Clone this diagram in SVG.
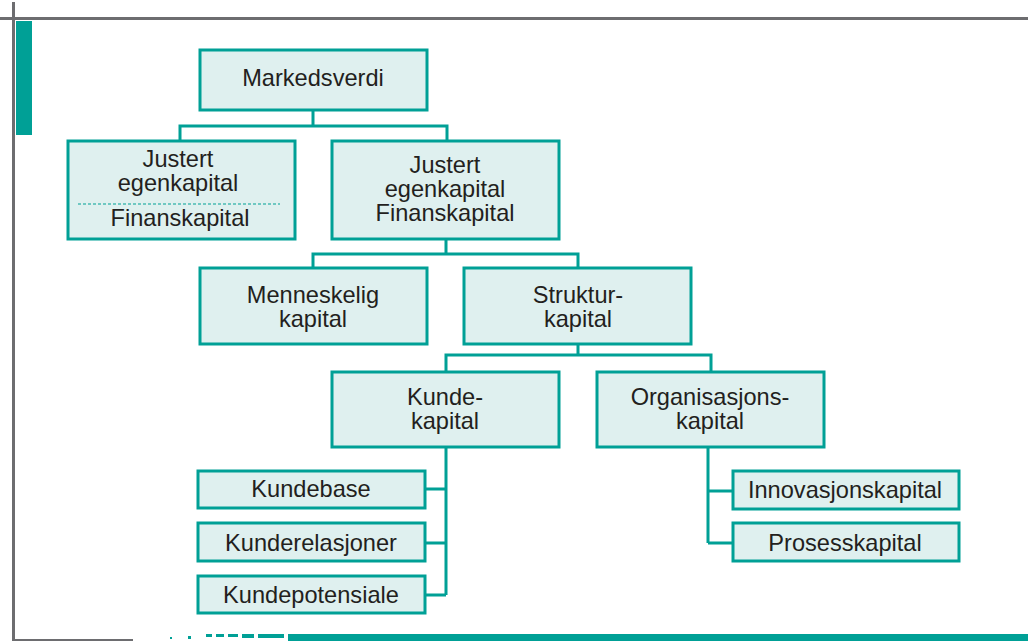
<svg xmlns="http://www.w3.org/2000/svg" width="1028" height="641" viewBox="0 0 1028 641">
  <style>
    .box { fill: #dff0ef; stroke: #00a096; stroke-width: 3; }
    .lbl { font-family: "Liberation Sans", Arial, sans-serif; font-size: 23.6px; fill: #231f20; text-anchor: middle; }
    .wire { fill: none; stroke: #00a096; stroke-width: 3; }
    .frame { fill: #6d6d70; }
    .accent { fill: #00a096; }
  </style>

  <!-- page frame and accents -->
  <g id="frame">
    <rect class="frame" x="12" y="2" width="3" height="639"/>
    <rect class="frame" x="0" y="17" width="1028" height="3"/>
    <rect class="accent" x="16" y="21" width="16" height="114"/>
    <rect class="frame" x="12" y="639" width="121" height="2"/>
    <rect class="accent" x="288" y="634" width="740" height="7"/>
    <g class="accent">
      <rect x="206" y="634" width="6" height="3"/>
      <rect x="216" y="634" width="8" height="3"/>
      <rect x="228" y="634" width="10" height="3"/>
      <rect x="242" y="634" width="12" height="4"/>
      <rect x="258" y="634" width="26" height="4"/>
      <rect x="188" y="636" width="3" height="3"/>
      <rect x="170" y="637" width="2" height="2"/>
    </g>
  </g>

  <!-- connectors -->
  <g id="connectors">
    <path class="wire" d="M313,111 V126 M180,141 V126 H447 V141"/>
    <path class="wire" d="M446,239 V254 M313,268 V254 H578 V268"/>
    <path class="wire" d="M578,344 V355 M446,372 V355 H711 V372"/>
    <path class="wire" d="M446,447 V595 M426,489 H446 M426,543 H446 M426,595 H446"/>
    <path class="wire" d="M708,447 V543 M708,491 H733 M708,543 H733"/>
  </g>

  <g id="markedsverdi">
    <rect class="box" x="200" y="50" width="227" height="60"/>
    <text class="lbl" x="313" y="86">Markedsverdi</text>
  </g>

  <g id="justert-finans-split">
    <rect class="box" x="68" y="141" width="227" height="98"/>
    <text class="lbl" x="178" y="167">Justert</text>
    <text class="lbl" x="178" y="191">egenkapital</text>
    <line x1="78" y1="204" x2="280" y2="204" stroke="#00a096" stroke-width="1.2" stroke-dasharray="3,2"/>
    <text class="lbl" x="180" y="226">Finanskapital</text>
  </g>

  <g id="justert-finans">
    <rect class="box" x="332" y="141" width="227" height="98"/>
    <text class="lbl" x="445" y="173">Justert</text>
    <text class="lbl" x="445" y="197">egenkapital</text>
    <text class="lbl" x="445" y="221">Finanskapital</text>
  </g>

  <g id="menneskelig">
    <rect class="box" x="200" y="268" width="227" height="76"/>
    <text class="lbl" x="313" y="303">Menneskelig</text>
    <text class="lbl" x="313" y="327">kapital</text>
  </g>

  <g id="struktur">
    <rect class="box" x="464" y="268" width="227" height="76"/>
    <text class="lbl" x="578" y="303">Struktur-</text>
    <text class="lbl" x="578" y="327">kapital</text>
  </g>

  <g id="kunde">
    <rect class="box" x="332" y="372" width="227" height="75"/>
    <text class="lbl" x="445" y="405">Kunde-</text>
    <text class="lbl" x="445" y="429">kapital</text>
  </g>

  <g id="organisasjon">
    <rect class="box" x="597" y="372" width="227" height="75"/>
    <text class="lbl" x="710" y="405">Organisasjons-</text>
    <text class="lbl" x="710" y="429">kapital</text>
  </g>

  <g id="kundebase">
    <rect class="box" x="198" y="471" width="227" height="37"/>
    <text class="lbl" x="311" y="497">Kundebase</text>
  </g>

  <g id="kunderelasjoner">
    <rect class="box" x="198" y="523" width="227" height="38"/>
    <text class="lbl" x="311" y="551">Kunderelasjoner</text>
  </g>

  <g id="kundepotensiale">
    <rect class="box" x="198" y="576" width="227" height="37"/>
    <text class="lbl" x="311" y="603">Kundepotensiale</text>
  </g>

  <g id="innovasjon">
    <rect class="box" x="733" y="471" width="226" height="38"/>
    <text class="lbl" x="845" y="498">Innovasjonskapital</text>
  </g>

  <g id="prosess">
    <rect class="box" x="733" y="523" width="226" height="38"/>
    <text class="lbl" x="845" y="551">Prosesskapital</text>
  </g>
</svg>
